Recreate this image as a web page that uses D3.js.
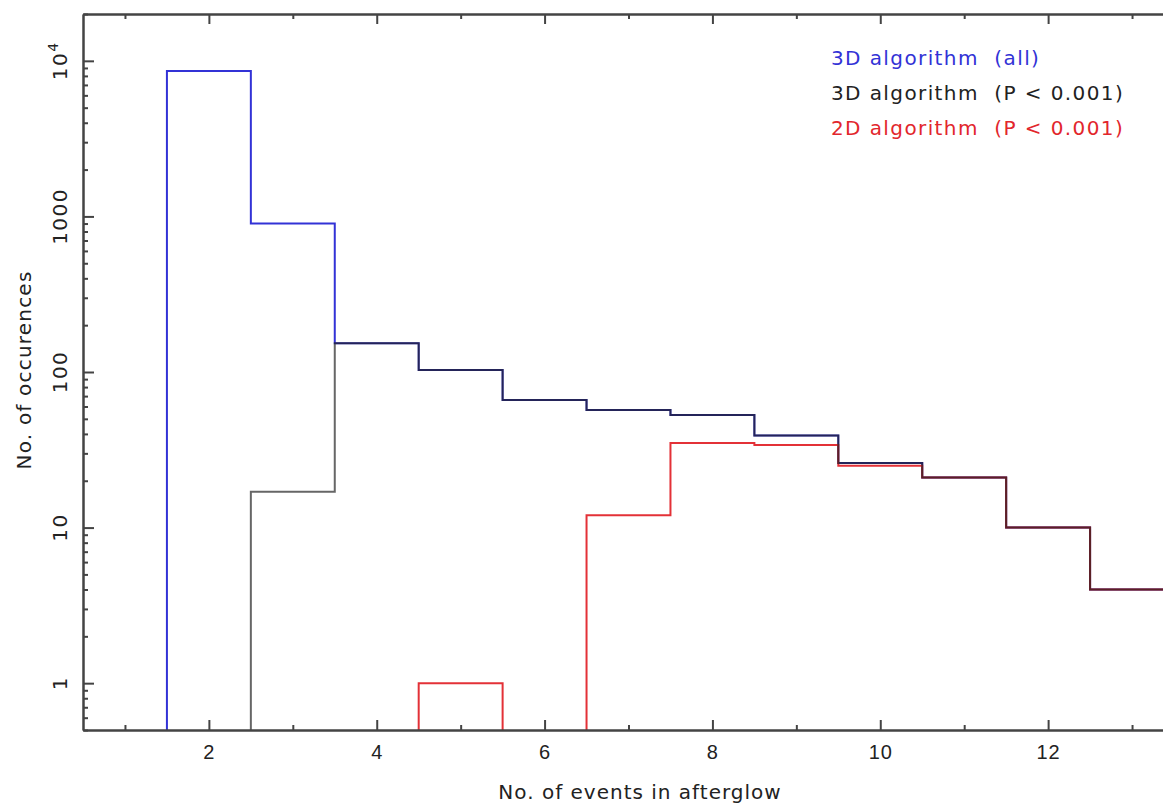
<!DOCTYPE html>
<html>
<head>
<meta charset="utf-8">
<style>
    body { margin: 0; background: #fff; }
    svg { display: block; font-family: 'DejaVu Sans', sans-serif; }
    .axis .domain { stroke: #444; stroke-width: 2; }
    .axis .tick line { stroke: #444; stroke-width: 2; }
    .axis text { fill: #222; font-size: 20px; letter-spacing: 1px; }
</style>
</head>
<body>
<svg width="1163" height="806"></svg>
<script src="https://d3js.org/d3.v7.min.js"></script>
<script>
    // bin centres (no. of events) and counts per series
    let bins = [2, 3, 4, 5, 6, 7, 8, 9, 10, 11, 12, 13]
    let all3d = [8600, 900, 153, 103, 66, 57, 53, 39, 26, 21, 10, 4]
    let sig3d = [0, 17, 153, 103, 66, 57, 53, 39, 26, 21, 10, 4]
    let sig2d = [0, 0, 0, 1, 0, 12, 35, 34, 25, 21, 10, 4]

    let xMajor = [2, 4, 6, 8, 10, 12]
    let xMinor = [1, 3, 5, 7, 9, 11, 13]
    let yMajor = [1, 10, 100, 1000, 10000]

    let legendLabels = ["3D algorithm  (all)", "3D algorithm  (P < 0.001)", "2D algorithm  (P < 0.001)"]

    let width = 1163
    let height = 806
    let margin = { top: 14, right: -11, bottom: 76, left: 83 }

    let svg = d3.select("svg")

    let x = d3.scaleLinear()
        .domain([0.5, 13.5])
        .range([margin.left, width - margin.right])

    let y = d3.scaleLog()
        .domain([0.5, 20000])
        .range([height - margin.bottom, margin.top])

    let yMinor = []
    d3.range(-1, 5).forEach(p => {
        d3.range(2, 10).forEach(m => {
            let v = m * Math.pow(10, p)
            if (v >= 0.5 && v <= 20000 && !yMajor.includes(v)) yMinor.push(v)
        })
    })

    let x0 = margin.left, x1 = width - margin.right
    let y0 = height - margin.bottom, y1 = margin.top

    svg.append("clipPath").attr("id", "plot")
        .append("rect")
        .attr("x", x0).attr("y", y1)
        .attr("width", x1 - x0).attr("height", y0 - y1)

    // zero counts sit just under the frame and get clipped
    let yv = v => v > 0 ? y(v) : y0 + 6

    let step = d3.line()
        .x(d => x(d[0]))
        .y(d => yv(d[1]))
        .curve(d3.curveStepAfter)

    function pts(vals) {
        let p = [[bins[0] - 0.5, 0]]
        vals.forEach((v, i) => p.push([bins[i] - 0.5, v]))
        p.push([bins[bins.length - 1] + 0.5, vals[vals.length - 1]])
        return p
    }

    let series = [
        { vals: all3d, color: "#3232d6", op: 1 },
        { vals: sig2d, color: "#e2262c", op: 0.95 },
        { vals: sig3d, color: "#1e1e1e", op: 0.68 }
    ]

    svg.append("g")
        .attr("clip-path", "url(#plot)")
        .selectAll("path")
        .data(series)
        .join("path")
        .attr("d", d => step(pts(d.vals)))
        .attr("fill", "none")
        .attr("stroke", d => d.color)
        .attr("stroke-opacity", d => d.op)
        .attr("stroke-width", 2)

    // axes, ticks pointing inward
    function addAxis(axisFn, scale, pos, vals, size, labels) {
        let g = svg.append("g")
            .attr("class", "axis")
            .attr("transform", pos)
            .call(axisFn(scale).tickValues(vals).tickSize(size).tickSizeOuter(0)
                .tickFormat(labels ? d3.format("d") : ""))
        return g
    }

    let bottomAxis = addAxis(d3.axisBottom, x, `translate(0,${y0})`, xMajor, -10, true)
    bottomAxis.selectAll("text").attr("y", 29).attr("dy", 0)
    addAxis(d3.axisBottom, x, `translate(0,${y0})`, xMinor, -5, false)
    addAxis(d3.axisTop, x, `translate(0,${y1})`, xMajor, -10, false)
    addAxis(d3.axisTop, x, `translate(0,${y1})`, xMinor, -5, false)

    addAxis(d3.axisLeft, y, `translate(${x0},0)`, yMajor, -11, false)
    addAxis(d3.axisLeft, y, `translate(${x0},0)`, yMinor, -5, false)
    addAxis(d3.axisRight, y, `translate(${x1},0)`, yMajor, -11, false)
    addAxis(d3.axisRight, y, `translate(${x1},0)`, yMinor, -5, false)

    // rotated y tick labels
    let yl = svg.append("g")
        .selectAll("text")
        .data(yMajor)
        .join("text")
        .attr("transform", d => `translate(67,${y(d)}) rotate(-90)`)
        .attr("text-anchor", "middle")
        .attr("fill", "#222")
        .style("font-size", "20px")
        .style("letter-spacing", "1.5px")
    yl.filter(d => d < 10000).text(d => d)
    let pow4 = yl.filter(d => d === 10000)
    pow4.append("tspan").text("10")
    pow4.append("tspan").attr("dy", -9).style("font-size", "14px").text("4")

    // axis titles
    svg.append("text")
        .attr("x", 640).attr("y", 799)
        .attr("text-anchor", "middle")
        .attr("fill", "#222")
        .style("font-size", "20px")
        .style("letter-spacing", "1px")
        .text("No. of events in afterglow")

    svg.append("text")
        .attr("transform", "translate(31,370) rotate(-90)")
        .attr("text-anchor", "middle")
        .attr("fill", "#222")
        .style("font-size", "20px")
        .style("letter-spacing", "1.2px")
        .text("No. of occurences")

    // legend
    svg.append("g")
        .selectAll("text")
        .data(legendLabels)
        .join("text")
        .attr("x", 831)
        .attr("y", (d, i) => 65 + i * 35)
        .attr("fill", (d, i) => ["#3232d6", "#222", "#e2262c"][i])
        .style("font-size", "20px")
        .style("letter-spacing", "1.4px")
        .style("white-space", "pre")
        .text(d => d)
</script>
</body>
</html>
